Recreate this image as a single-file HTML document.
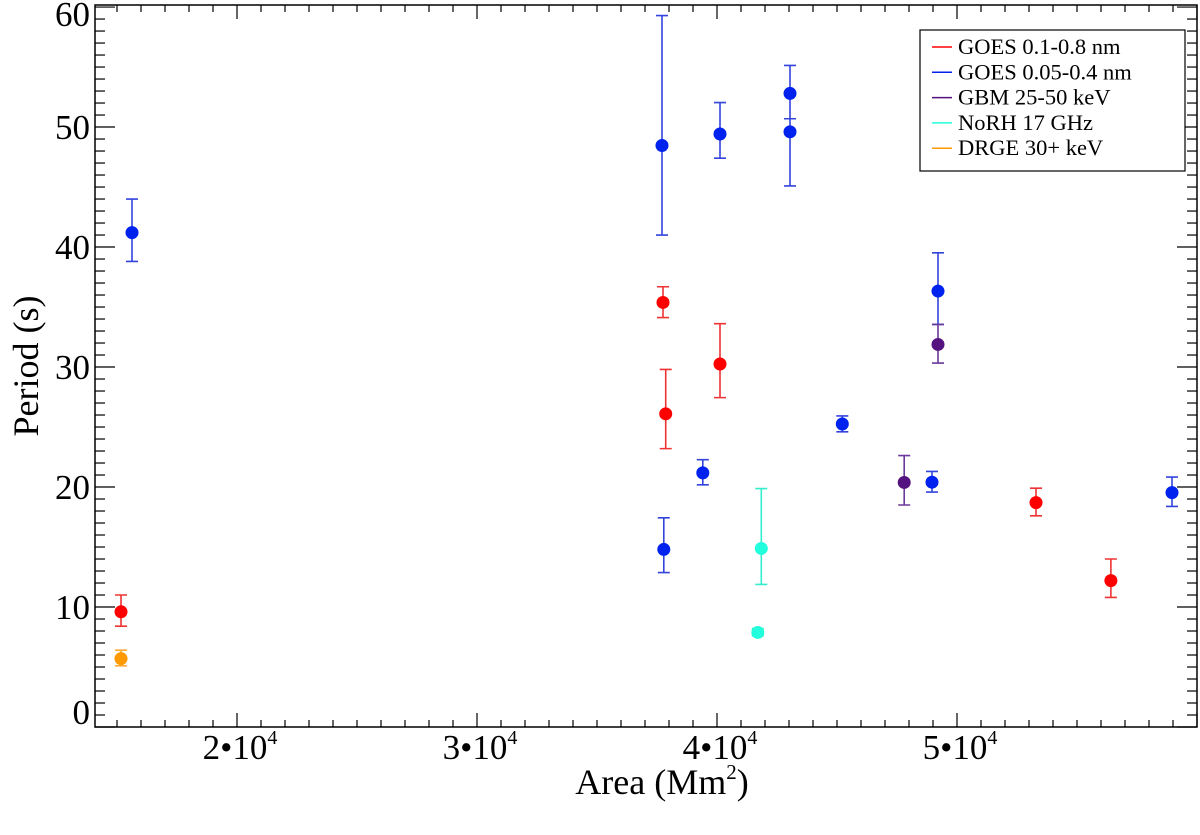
<!DOCTYPE html>
<html><head><meta charset="utf-8"><style>
html,body{margin:0;padding:0;background:#fff;}
svg text{font-family:"Liberation Serif",serif;fill:#000;}
</style></head><body>
<svg id="chart" width="1200" height="830" xmlns="http://www.w3.org/2000/svg">
<g id="axes"></g>
<g id="marks"></g>
<g id="legend">
<rect x="920" y="30" width="265" height="141" fill="#fff" stroke="#000" stroke-width="1.2"/>
</g>
<text x="662" y="794" font-size="36" text-anchor="middle">Area (Mm<tspan font-size="21" dy="-15">2</tspan><tspan dy="15">)</tspan></text>
<text transform="translate(38,366) rotate(-90)" font-size="36" text-anchor="middle">Period (s)</text>
</svg>
<script>
const seriesNames = ["GOES 0.1-0.8 nm","GOES 0.05-0.4 nm","GBM 25-50 keV","NoRH 17 GHz","DRGE 30+ keV"];
const seriesColors = ["#ff0000","#0022ee","#55137f","#22ffdd","#ff9900"];
const errColors = ["#ee3333","#3344dd","#6a3a9a","#33eecc","#ffaa33"];
const redArea = [15167,37750,37863,40125,53292,56412];
const redVal = [9.6,35.38,26.1,30.25,18.7,12.2];
const redLo = [8.4,34.12,23.2,27.45,17.6,10.8];
const redHi = [11.0,36.69,29.8,33.61,19.9,14.0];
const blueArea = [15625,37708,37783,39408,40125,43042,43042,45221,48958,49208,58958];
const blueVal = [41.2,48.46,14.80,21.18,49.42,52.8,49.6,25.25,20.4,36.33,19.53];
const blueLo = [38.8,41.0,12.87,20.18,47.4,50.69,45.09,24.6,19.58,33.55,18.38];
const blueHi = [44.0,59.29,17.43,22.28,52.04,55.13,50.69,25.92,21.3,39.52,20.83];
const purpleArea = [49208,47800];
const purpleVal = [31.88,20.38];
const purpleLo = [30.33,18.5];
const purpleHi = [33.55,22.62];
const cyanArea = [41846,41700];
const cyanVal = [14.88,7.88];
const cyanLo = [11.88,7.6];
const cyanHi = [19.87,8.2];
const orangeArea = [15167];
const orangeVal = [5.7];
const orangeLo = [5.1];
const orangeHi = [6.4];
const yTickVals = [0,10,20,30,40,50,60];
const xTickVals = [20000,30000,40000,50000];
const xTickLabels = ["2","3","4","5"];

const NS="http://www.w3.org/2000/svg";
const L=95,R=1197,T=5,B=727;
const xMin=14083,xMax=60000,yMin=0,yMax=60.17;
function xs(a){return L+(a-xMin)/(xMax-xMin)*(R-L);}
function ys(v){return B-(v-yMin)/(yMax-yMin)*(B-T);}
function mk(tag,attrs,parent){const e=document.createElementNS(NS,tag);for(const k in attrs)e.setAttribute(k,attrs[k]);parent.appendChild(e);return e;}
const axes=document.getElementById('axes');
const frame=mk('rect',{x:L,y:T,width:R-L,height:B-T,fill:'none',stroke:'#000','stroke-width':1.5},axes);


for(let v=0;v<=60;v++){
  const y=ys(v);const major=v%10===0;const len=major?20:10;
  const t1=mk('line',{x1:L,x2:L+len,y1:y,y2:y,stroke:'#000','stroke-width':1.2},axes);
  
  
  const t2=mk('line',{x1:R,x2:R-len,y1:y,y2:y,stroke:'#000','stroke-width':1.2},axes);
  
  
}
yTickVals.forEach(v=>{
  let y=ys(v);y=Math.max(14,Math.min(712,y));
  const t=mk('text',{x:L-5,y:y+12,'font-size':35,'text-anchor':'end'},axes);
  t.textContent=String(v);
  
  
});
for(let a=15000;a<=60000;a+=1000){
  const x=xs(a);const major=a%10000===0;const len=major?14:7;
  const t1=mk('line',{x1:x,x2:x,y1:B,y2:B-len,stroke:'#000','stroke-width':1.2},axes);
  
  
  const t2=mk('line',{x1:x,x2:x,y1:T,y2:T+len,stroke:'#000','stroke-width':1.2},axes);
  
  
}
xTickVals.forEach((a,i)=>{
  const t=mk('text',{x:xs(a)+3,y:759,'font-size':35,'text-anchor':'middle'},axes);
  t.innerHTML=xTickLabels[i]+'\u2022'+'10<tspan font-size="20" dy="-15">4</tspan>';
  
  
});
const marks=document.getElementById('marks');
const series=[[redArea,redVal,redLo,redHi],[blueArea,blueVal,blueLo,blueHi],[purpleArea,purpleVal,purpleLo,purpleHi],[cyanArea,cyanVal,cyanLo,cyanHi],[orangeArea,orangeVal,orangeLo,orangeHi]];
const sNames=['goes-long','goes-short','gbm','norh','drge'];
series.forEach((s,si)=>{
  const g=mk('g',{},marks);
  
  
  s[0].forEach((a,i)=>{
    const x=xs(a),yl=ys(s[2][i]),yh=ys(s[3][i]);
    const e=mk('path',{d:`M${x},${yl}V${yh}M${x-6},${yl}H${x+6}M${x-6},${yh}H${x+6}`,stroke:errColors[si],'stroke-width':1.6,fill:'none'},g);
    
    
  });
  s[0].forEach((a,i)=>{
    const c=mk('circle',{cx:xs(a),cy:ys(s[1][i]),r:6.5,fill:seriesColors[si]},g);
    
    
  });
});
const lg=document.getElementById('legend');
seriesNames.forEach((n,i)=>{
  const y=47+i*25.3;
  const l=mk('line',{x1:932,x2:952,y1:y,y2:y,stroke:seriesColors[i],'stroke-width':1.5},lg);
  
  
  const t=mk('text',{x:958,y:y+7,'font-size':22.5},lg);
  t.textContent=n;
  
  
});
</script>
</body></html>
